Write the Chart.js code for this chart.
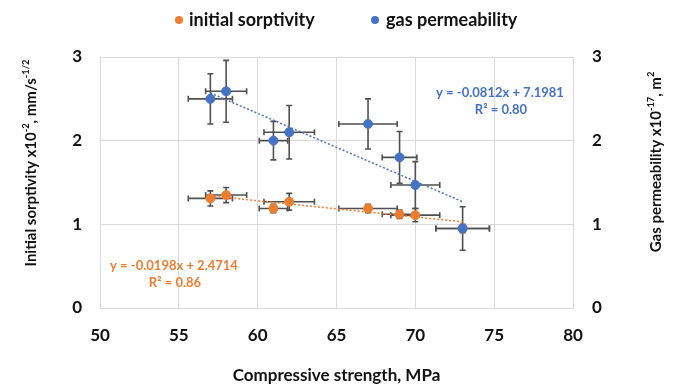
<!DOCTYPE html>
<html>
<head>
<meta charset="utf-8">
<script src="https://cdn.jsdelivr.net/npm/chart.js@4.4.1/dist/chart.umd.min.js"></script>
<style>
  html, body { margin: 0; padding: 0; background: #fff; }
  #wrap { width: 676px; height: 386px; }
</style>
</head>
<body>
<div id="wrap"><canvas id="chart_sorp_perm"></canvas></div>
<script>
// values
const strength = [57, 58, 61, 62, 67, 69, 70, 73];
const strengthErr = [1.4, 1.3, 0.9, 1.6, 1.85, 1.1, 1.55, 1.7];
const sorptivity = [1.31, 1.35, 1.19, 1.27, 1.19, 1.12, 1.11, 0.95];
const sorptivityErr = [0.09, 0.09, 0.05, 0.1, 0.05, 0.05, 0.08, 0.05];
const permeability = [2.50, 2.59, 2.00, 2.10, 2.20, 1.80, 1.47, 0.95];
const permeabilityErr = [0.30, 0.37, 0.23, 0.32, 0.30, 0.31, 0.28, 0.26];
const trendX = [57, 73];
const sorptivityTrend = [1.34, 1.03];
const permeabilityTrend = [2.57, 1.27];
const xTicks = [50, 55, 60, 65, 70, 75, 80];
const yTicks = [0, 1, 2, 3];

const ORANGE = "#ED7D31";
const BLUE = "#4472C4";
const FONT = "Lato";
const INK = "#111";

function pts(xs, ys) {
  return xs.map((x, i) => ({ x: x, y: ys[i] }));
}

// draws text with superscript parts, centred on (x, y), optionally rotated
function drawRich(ctx, parts, x, y, angle, size, color) {
  ctx.save();
  ctx.translate(x, y);
  ctx.rotate(angle);
  ctx.fillStyle = color;
  ctx.textBaseline = "middle";
  ctx.textAlign = "left";
  let total = 0;
  parts.forEach((p) => {
    ctx.font = "bold " + (p.sup ? size * 0.62 : size) + "px " + FONT;
    total += ctx.measureText(p.t).width;
  });
  let cx = -total / 2;
  parts.forEach((p) => {
    ctx.font = "bold " + (p.sup ? size * 0.62 : size) + "px " + FONT;
    ctx.fillText(p.t, cx, p.sup ? -size * 0.33 : 0);
    cx += ctx.measureText(p.t).width;
  });
  ctx.restore();
}

const errorBars = {
  id: "errorBars",
  beforeDatasetsDraw(chart) {
    const ctx = chart.ctx;
    const xs = chart.scales.x;
    const sets = [
      { scale: chart.scales.y, vals: sorptivity, errs: sorptivityErr },
      { scale: chart.scales.y2, vals: permeability, errs: permeabilityErr },
    ];
    ctx.save();
    ctx.strokeStyle = "#505050";
    ctx.lineWidth = 1.6;
    const cap = 3;
    sets.forEach((s) => {
      strength.forEach((x, i) => {
        const px = xs.getPixelForValue(x);
        const py = s.scale.getPixelForValue(s.vals[i]);
        const x0 = xs.getPixelForValue(x - strengthErr[i]);
        const x1 = xs.getPixelForValue(x + strengthErr[i]);
        const y0 = s.scale.getPixelForValue(s.vals[i] - s.errs[i]);
        const y1 = s.scale.getPixelForValue(s.vals[i] + s.errs[i]);
        ctx.beginPath();
        ctx.moveTo(x0, py); ctx.lineTo(x1, py);
        ctx.moveTo(x0, py - cap); ctx.lineTo(x0, py + cap);
        ctx.moveTo(x1, py - cap); ctx.lineTo(x1, py + cap);
        ctx.moveTo(px, y0); ctx.lineTo(px, y1);
        ctx.moveTo(px - cap, y0); ctx.lineTo(px + cap, y0);
        ctx.moveTo(px - cap, y1); ctx.lineTo(px + cap, y1);
        ctx.stroke();
      });
    });
    ctx.restore();
  },
};

const extraText = {
  id: "extraText",
  afterDraw(chart) {
    const ctx = chart.ctx;
    // legend
    ctx.save();
    ctx.textBaseline = "middle";
    ctx.textAlign = "left";
    ctx.font = "bold 18px " + FONT;
    ctx.fillStyle = ORANGE;
    ctx.beginPath(); ctx.arc(179, 20, 4, 0, Math.PI * 2); ctx.fill();
    ctx.fillStyle = BLUE;
    ctx.beginPath(); ctx.arc(375, 20, 4, 0, Math.PI * 2); ctx.fill();
    ctx.fillStyle = INK;
    ctx.fillText("initial sorptivity", 189, 20);
    ctx.fillText("gas permeability", 386, 20);

    // trendline equations
    ctx.textAlign = "center";
    ctx.font = "bold 13px " + FONT;
    ctx.fillStyle = BLUE;
    ctx.fillText("y = -0.0812x + 7.1981", 500, 93);
    ctx.fillText("R\u00B2 = 0.80", 501, 110);
    ctx.fillStyle = ORANGE;
    ctx.fillText("y = -0.0198x + 2.4714", 174, 266);
    ctx.fillText("R\u00B2 = 0.86", 175, 283);
    ctx.restore();

    // axis titles with superscripts
    drawRich(ctx, [
      { t: "Initial sorptivity x10" }, { t: "-2", sup: true },
      { t: ", mm/s" }, { t: "-1/2", sup: true },
    ], 31, 163, -Math.PI / 2, 15, INK);
    drawRich(ctx, [
      { t: "Gas permeability x10" }, { t: "-17", sup: true },
      { t: ", m" }, { t: "2", sup: true },
    ], 656, 162, -Math.PI / 2, 15, INK);
  },
};

const tickFont = { family: FONT, size: 17, weight: "bold" };

new Chart(document.getElementById("chart_sorp_perm").getContext("2d"), {
  type: "scatter",
  data: {
    datasets: [
      {
        label: "initial sorptivity",
        data: pts(strength, sorptivity),
        yAxisID: "y",
        backgroundColor: ORANGE,
        borderColor: ORANGE,
        pointRadius: 4.5,
        pointHoverRadius: 4.5,
        order: 3,
      },
      {
        label: "gas permeability",
        data: pts(strength, permeability),
        yAxisID: "y2",
        backgroundColor: BLUE,
        borderColor: BLUE,
        pointRadius: 4.5,
        pointHoverRadius: 4.5,
        order: 2,
      },
      {
        label: "sorptivity trend",
        data: pts(trendX, sorptivityTrend),
        yAxisID: "y",
        showLine: true,
        borderColor: ORANGE,
        borderWidth: 1.5,
        borderDash: [2, 2],
        pointRadius: 0,
        order: 5,
      },
      {
        label: "permeability trend",
        data: pts(trendX, permeabilityTrend),
        yAxisID: "y2",
        showLine: true,
        borderColor: BLUE,
        borderWidth: 1.5,
        borderDash: [2, 2],
        pointRadius: 0,
        order: 4,
      },
    ],
  },
  options: {
    responsive: true,
    maintainAspectRatio: false,
    animation: false,
    layout: { padding: { top: 57, left: 0, right: 0, bottom: 0 } },
    plugins: {
      legend: { display: false },
      tooltip: { enabled: false },
    },
    scales: {
      x: {
        type: "linear",
        min: 50,
        max: 80,
        afterFit: (s) => { s.height = 78; },
        afterBuildTicks: (s) => { s.ticks = xTicks.map((v) => ({ value: v })); },
        grid: { color: "#d9d9d9", drawTicks: false },
        border: { color: "#d9d9d9" },
        ticks: { font: tickFont, color: INK, padding: 17 },
        title: {
          display: true,
          text: "Compressive strength, MPa",
          font: { family: FONT, size: 17, weight: "bold" },
          color: INK,
          padding: { top: 0, bottom: 0 },
        },
      },
      y: {
        position: "left",
        min: 0,
        max: 3,
        afterFit: (s) => { s.width = 100; },
        afterBuildTicks: (s) => { s.ticks = yTicks.map((v) => ({ value: v })); },
        grid: { color: "#d9d9d9", drawTicks: false },
        border: { color: "#d9d9d9" },
        ticks: { font: tickFont, color: INK, padding: 18 },
      },
      y2: {
        position: "right",
        min: 0,
        max: 3,
        afterFit: (s) => { s.width = 103; },
        afterBuildTicks: (s) => { s.ticks = yTicks.map((v) => ({ value: v })); },
        grid: { display: false, drawTicks: false },
        border: { color: "#d9d9d9" },
        ticks: { font: tickFont, color: INK, padding: 19 },
      },
    },
  },
  plugins: [errorBars, extraText],
});
</script>
</body>
</html>
